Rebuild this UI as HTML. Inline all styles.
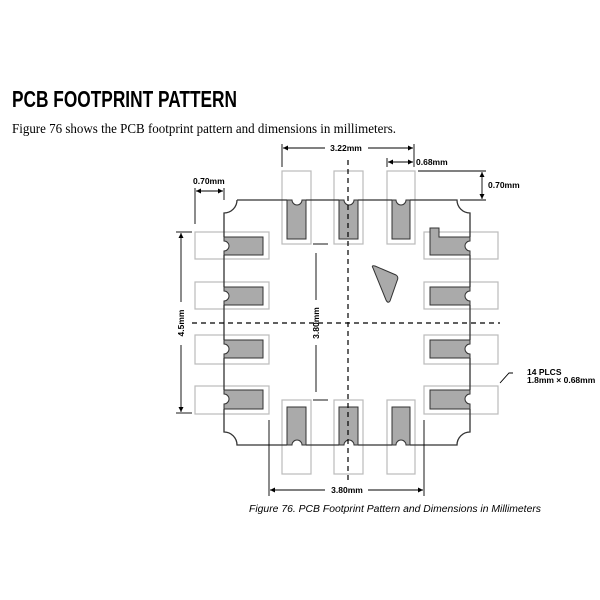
<!DOCTYPE html>
<html><head><meta charset="utf-8"><style>
html,body{margin:0;padding:0;background:#fff;}
svg{display:block;}
</style></head><body>
<svg width="600" height="600" viewBox="0 0 600 600" xmlns="http://www.w3.org/2000/svg">
<defs>
<marker id="a" viewBox="0 0 10 10" refX="10" refY="5" markerWidth="7" markerHeight="5" orient="auto-start-reverse" markerUnits="userSpaceOnUse"><path d="M0,0L10,5L0,10z" fill="#000"/></marker>
</defs>
<text x="12" y="107" font-family="Liberation Sans Narrow, Liberation Sans, sans-serif" font-weight="bold" font-size="23" textLength="225" lengthAdjust="spacingAndGlyphs">PCB FOOTPRINT PATTERN</text>
<text x="12" y="133" font-family="Liberation Serif, serif" font-size="14" textLength="384" lengthAdjust="spacingAndGlyphs">Figure 76 shows the PCB footprint pattern and dimensions in millimeters.</text>

<g fill="none" stroke="#bbb" stroke-width="1.2">
<rect x="282" y="171" width="29" height="73"/><rect x="334" y="171" width="29" height="73"/><rect x="387" y="171" width="28" height="73"/>
<rect x="282" y="400" width="29" height="74"/><rect x="334" y="400" width="29" height="74"/><rect x="387" y="400" width="28" height="74"/>
<rect x="195" y="232" width="74" height="27"/><rect x="195" y="282" width="74" height="27"/><rect x="195" y="335" width="74" height="29"/><rect x="195" y="386" width="74" height="28"/>
<rect x="424" y="232" width="74" height="27"/><rect x="424" y="282" width="74" height="27"/><rect x="424" y="335" width="74" height="29"/><rect x="424" y="386" width="74" height="28"/>
</g>
<g fill="#aaa" stroke="#333" stroke-width="1">
<path d="M287,200 H292 A5,5 0 0 0 302,200 H306 V239 H287 Z"/>
<path d="M339,200 H344 A5,5 0 0 0 354,200 H358 V239 H339 Z"/>
<path d="M392,200 H396 A5,5 0 0 0 406,200 H410 V239 H392 Z"/>
<path d="M287,445 H292 A5,5 0 0 1 302,445 H306 V407 H287 Z"/>
<path d="M339,445 H344 A5,5 0 0 1 354,445 H358 V407 H339 Z"/>
<path d="M392,445 H396 A5,5 0 0 1 406,445 H410 V407 H392 Z"/>
<path d="M224,237 V241 A5,5 0 0 1 224,251 V255 H263 V237 Z"/>
<path d="M224,287 V291 A5,5 0 0 1 224,301 V305 H263 V287 Z"/>
<path d="M224,340 V344 A5,5 0 0 1 224,354 V358 H263 V340 Z"/>
<path d="M224,390 V394 A5,5 0 0 1 224,404 V409 H263 V390 Z"/>
<path d="M470,237 V241 A5,5 0 0 0 470,251 V255 H430 V228 H439 V237 Z"/>
<path d="M470,287 V291 A5,5 0 0 0 470,301 V305 H430 V287 Z"/>
<path d="M470,340 V344 A5,5 0 0 0 470,354 V358 H430 V340 Z"/>
<path d="M470,390 V394 A5,5 0 0 0 470,404 V409 H430 V390 Z"/>
<path d="M373,268 Q371,265 375,266 L396,275 Q399,277 397,281 L390,301 Q388,304 386,300 Z"/>
</g>
<path d="M237,200 H287 M306,200 H339 M358,200 H392 M410,200 H457 A13,13 0 0 0 470,213 V237 M470,255 V287 M470,305 V340 M470,358 V390 M470,409 V432 A13,13 0 0 0 457,445 H410 M392,445 H358 M339,445 H306 M287,445 H237 A13,13 0 0 0 224,432 V409 M224,390 V358 M224,340 V305 M224,287 V255 M224,237 V213 A13,13 0 0 0 237,200" fill="none" stroke="#333" stroke-width="1.3"/>
<g stroke="#000" stroke-width="1.2" stroke-dasharray="5,4" fill="none">
<line x1="348" y1="160" x2="348" y2="480"/>
<line x1="192" y1="323" x2="500" y2="323"/>
</g>
<g stroke="#000" stroke-width="0.9" fill="none">
<line x1="282" y1="144" x2="282" y2="167"/><line x1="414" y1="144" x2="414" y2="167"/>
<line x1="283" y1="148" x2="325" y2="148" marker-start="url(#a)"/><line x1="368" y1="148" x2="413" y2="148" marker-end="url(#a)"/>
<line x1="387" y1="158" x2="387" y2="167"/>
<line x1="388" y1="162" x2="413" y2="162" marker-start="url(#a)" marker-end="url(#a)"/>
<line x1="418" y1="171" x2="486" y2="171"/><line x1="460" y1="200" x2="486" y2="200"/>
<line x1="482" y1="172" x2="482" y2="199" marker-start="url(#a)" marker-end="url(#a)"/>
<line x1="195" y1="188" x2="195" y2="224"/><line x1="224" y1="188" x2="224" y2="200"/>
<line x1="196" y1="191" x2="223" y2="191" marker-start="url(#a)" marker-end="url(#a)"/>
<line x1="176" y1="232" x2="192" y2="232"/><line x1="176" y1="413" x2="192" y2="413"/>
<line x1="181" y1="233" x2="181" y2="302" marker-start="url(#a)"/><line x1="181" y1="345" x2="181" y2="412" marker-end="url(#a)"/>
<line x1="313" y1="244" x2="328" y2="244"/><line x1="313" y1="400" x2="328" y2="400"/>
<line x1="316" y1="253" x2="316" y2="300"/><line x1="316" y1="345" x2="316" y2="392"/>
<line x1="269" y1="420" x2="269" y2="496"/><line x1="424" y1="420" x2="424" y2="496"/>
<line x1="270" y1="490" x2="325" y2="490" marker-start="url(#a)"/><line x1="368" y1="490" x2="423" y2="490" marker-end="url(#a)"/>
<path d="M500,383 L509,373 H513"/>
</g>
<g font-family="Liberation Sans, sans-serif" font-weight="bold" font-size="8.5" fill="#000">
<text x="346" y="151" text-anchor="middle">3.22mm</text>
<text x="416" y="165">0.68mm</text>
<text x="488" y="188">0.70mm</text>
<text x="193" y="184">0.70mm</text>
<text transform="translate(184,323) rotate(-90)" text-anchor="middle">4.5mm</text>
<text transform="translate(319,323) rotate(-90)" text-anchor="middle">3.80mm</text>
<text x="347" y="493" text-anchor="middle">3.80mm</text>
<text x="527" y="375">14 PLCS</text>
<text x="527" y="383">1.8mm × 0.68mm</text>
</g>
<text x="395" y="512" text-anchor="middle" font-family="Liberation Sans, sans-serif" font-style="italic" font-size="10" textLength="292" lengthAdjust="spacingAndGlyphs">Figure 76. PCB Footprint Pattern and Dimensions in Millimeters</text>
</svg>
</body></html>
